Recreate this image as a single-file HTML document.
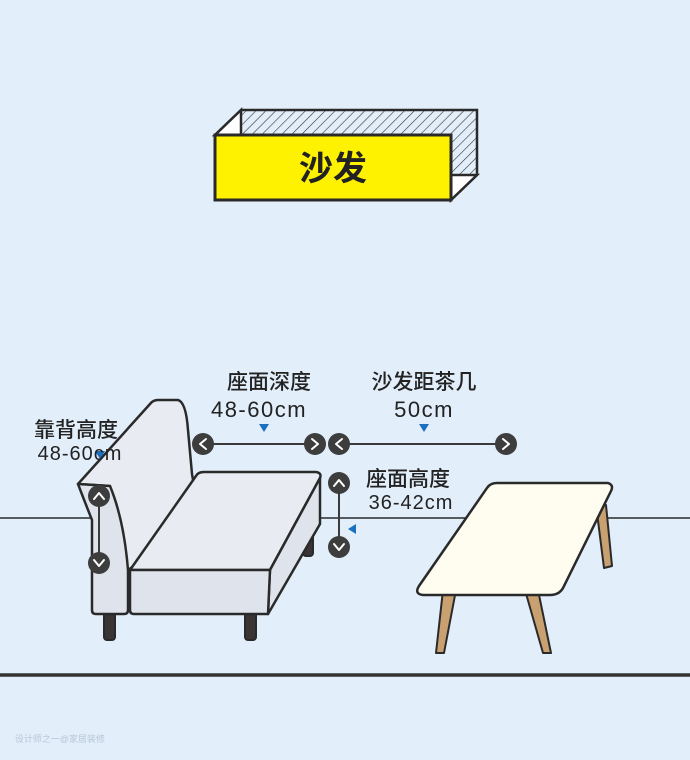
<!DOCTYPE html>
<html><head><meta charset="utf-8"><style>
body{margin:0;background:#e2eefa;}
svg{display:block}
text{font-family:"Liberation Sans","Noto Sans CJK SC",sans-serif;fill:#222}
</style></head><body>
<svg width="690" height="760" viewBox="0 0 690 760" xmlns="http://www.w3.org/2000/svg">
<defs><pattern id="h" width="7" height="7" patternUnits="userSpaceOnUse" patternTransform="rotate(45)"><line x1="0" y1="0" x2="0" y2="7" stroke="#333" stroke-width="1.2"/></pattern></defs>
<rect width="690" height="760" fill="#e2eefa"/>
<!-- title box -->
<polygon points="241,110 477,110 477,175 451,200 451,135 215,135" fill="url(#h)" stroke="#2a2a2a" stroke-width="2.5"/>
<polygon points="241,110 241,135 215,135" fill="#fff" stroke="#2a2a2a" stroke-width="2.5"/>
<polygon points="451,175 477,175 451,200" fill="#fff" stroke="#2a2a2a" stroke-width="2.5"/>
<rect x="215" y="135" width="236" height="65" fill="#fff200" stroke="#2a2a2a" stroke-width="3"/>
<text x="333" y="180" font-size="34" font-weight="bold" text-anchor="middle">沙发</text>
<!-- floor lines -->
<line x1="0" y1="518" x2="690" y2="518" stroke="#2a2a2a" stroke-width="1.5"/>
<line x1="0" y1="675" x2="690" y2="675" stroke="#333" stroke-width="3.5"/>
<!-- sofa legs -->
<g stroke="#2a2a2a" stroke-width="2" fill="#3a3434">
<rect x="303" y="520" width="10" height="36" rx="3"/>
<rect x="104" y="606" width="11" height="34" rx="3"/>
<rect x="245" y="606" width="11" height="34" rx="3"/>
</g>
<g stroke="#2a2a2a" stroke-width="2.5" fill="#e8ecf2" stroke-linejoin="round">
<path d="M78,484 L150,404 Q153,400 158,400 L178,400 Q186,402 188,430 L192,474 L200,520 L128,570 L110,486 Z"/>
<path d="M78,484 L110,486 Q124,520 128,570 L128,610 Q128,614 124,614 L96,614 Q92,614 92,610 L92,520 Q86,505 78,484 Z" fill="#dfe4ec"/>
<path d="M196,476 Q198,472 204,472 L316,472 Q322,473 320,478 L270,570 L130,570 Z" fill="#e8ecf2"/>
<path d="M320,478 L320,524 L268,614 L270,570 Z" fill="#dfe4ec"/>
<path d="M130,570 L270,570 L268,614 L134,614 Q130,614 130,610 Z" fill="#dfe4ec"/>
</g>
<!-- table -->
<g stroke="#2a2a2a" stroke-width="2" fill="#c9a070" stroke-linejoin="round">
<polygon points="596,505 606,505 612,566 604,568"/>
<polygon points="443,590 456,590 444,653 436,653"/>
<polygon points="525,590 538,590 551,653 543,653"/>
</g>
<path d="M487,488 Q490,483 497,483 L608,483 Q614,485 611,491 L563,588 Q559,595 550,595 L423,595 Q414,594 419,586 Z" fill="#fffdf0" stroke="#2a2a2a" stroke-width="2.5"/>
<!-- dimension lines -->
<g stroke="#3a3a3a" stroke-width="2">
<line x1="203" y1="444" x2="315" y2="444"/>
<line x1="339" y1="444" x2="506" y2="444"/>
<line x1="99" y1="496" x2="99" y2="563"/>
<line x1="339" y1="483" x2="339" y2="547"/>
</g>
<g fill="#3d3d3d">
<circle cx="203" cy="444" r="11"/><circle cx="315" cy="444" r="11"/>
<circle cx="339" cy="444" r="11"/><circle cx="506" cy="444" r="11"/>
<circle cx="99" cy="496" r="11"/><circle cx="99" cy="563" r="11"/>
<circle cx="339" cy="483" r="11"/><circle cx="339" cy="547" r="11"/>
</g>
<g stroke="#fff" stroke-width="2" fill="none" stroke-linecap="round" stroke-linejoin="round">
<polyline points="206,439 200,444 206,449"/><polyline points="312,439 318,444 312,449"/>
<polyline points="342,439 336,444 342,449"/><polyline points="503,439 509,444 503,449"/>
<polyline points="94,499 99,493 104,499"/><polyline points="94,560 99,566 104,560"/>
<polyline points="334,486 339,480 344,486"/><polyline points="334,544 339,550 344,544"/>
</g>
<g fill="#1a6fbf">
<polygon points="259,424 269,424 264,432"/>
<polygon points="419,424 429,424 424,432"/>
<polygon points="95,451 105,451 100,459"/>
<polygon points="356,524 356,534 348,529"/>
</g>
<g font-size="21" font-weight="500">
<text x="269" y="389" text-anchor="middle">座面深度</text>
<text x="259" y="417" text-anchor="middle" font-size="22" letter-spacing="1.5">48-60cm</text>
<text x="424" y="389" text-anchor="middle">沙发距茶几</text>
<text x="424" y="417" text-anchor="middle" font-size="22" letter-spacing="1.5">50cm</text>
<text x="76" y="437" text-anchor="middle">靠背高度</text>
<text x="80" y="460" text-anchor="middle" font-size="20" letter-spacing="1">48-60cm</text>
<text x="408" y="486" text-anchor="middle">座面高度</text>
<text x="411" y="509" text-anchor="middle" font-size="20" letter-spacing="1">36-42cm</text>
</g>
<text x="60" y="742" font-size="9" text-anchor="middle" style="fill:#b8c6d6">设计师之一@家居装修</text>
</svg>
</body></html>
